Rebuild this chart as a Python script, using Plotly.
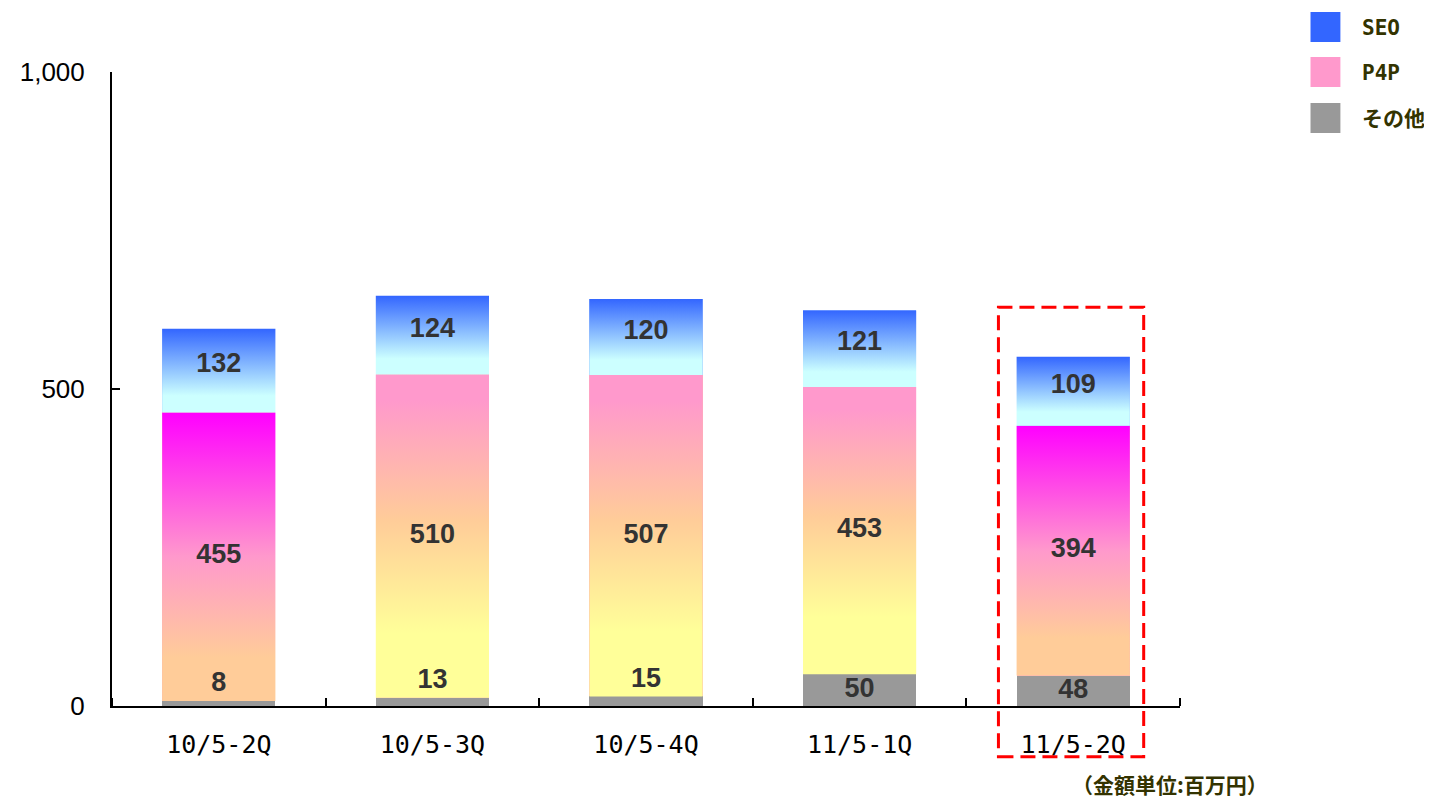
import plotly.graph_objects as go

# ---------------- data ----------------
categories = ["10/5-2Q", "10/5-3Q", "10/5-4Q", "11/5-1Q", "11/5-2Q"]
other_vals = [8, 13, 15, 50, 48]
p4p_vals = [455, 510, 507, 453, 394]
seo_vals = [132, 124, 120, 121, 109]
series_names = ["SEO", "P4P", "その他"]
y_tick_vals = [0, 500, 1000]
y_tick_text = ["0", "500", "1,000"]
highlight_index = 4
unit_note = "（金額単位:百万円）"

# ---------------- style ----------------
PAGE_OFF = 8                      # default body margin of the html page
W, H = 1432 - PAGE_OFF, 801 - PAGE_OFF
REF_L, REF_R, REF_T, REF_B = 108, 1180, 72, 706   # plot area in page pixels
M_L, M_T = REF_L - PAGE_OFF, REF_T - PAGE_OFF
PLOT_W = REF_R - REF_L
PLOT_H = REF_B - REF_T
M_R = W - M_L - PLOT_W
M_B = H - M_T - PLOT_H
Y_MAX = 1000
BAR_W = 0.53
n = len(categories)
xs = list(range(n))

col_seo = "#3366FF"
col_p4p = "#FF99CC"
col_other = "#999999"
legend_text_col = "#333300"

seo_scale = [[0, "#CCFFFF"], [0.2, "#CCFFFF"], [1, "#3366FF"]]
p4p_scale_a = [[0, "#FFCC99"], [0.15, "#FFCC99"], [0.5, "#FF99CC"], [1, "#FF00FF"]]
p4p_scale_b = [[0, "#FFFF99"], [0.2, "#FFFF99"], [0.55, "#FFCC99"], [0.92, "#FF99CC"], [1, "#FF99CC"]]
p4p_scale_per_bar = [p4p_scale_a, p4p_scale_b, p4p_scale_b, p4p_scale_b, p4p_scale_a]


def px(x):
    return (x - REF_L) / PLOT_W


def py(y):
    return (REF_B - y) / PLOT_H


fig = go.Figure()

# base bars (data layer)
fig.add_trace(go.Bar(x=xs, y=other_vals, name=series_names[2], marker_color=col_other,
                     width=BAR_W, marker_line_width=0, showlegend=False))
fig.add_trace(go.Bar(x=xs, y=p4p_vals, name=series_names[1], marker_color="#FFB0B8",
                     width=BAR_W, marker_line_width=0, showlegend=False))
fig.add_trace(go.Bar(x=xs, y=seo_vals, name=series_names[0], marker_color="#99BBFF",
                     width=BAR_W, marker_line_width=0, showlegend=False))

# gradient overlays computed from the same data
for i in range(n):
    base_p = other_vals[i]
    top_p = base_p + p4p_vals[i]
    top_s = top_p + seo_vals[i]
    for b, t, scale in [(base_p, top_p, p4p_scale_per_bar[i]), (top_p, top_s, seo_scale)]:
        x0, x1 = xs[i] - BAR_W / 2, xs[i] + BAR_W / 2
        fig.add_trace(go.Scatter(
            x=[x0, x1, x1, x0, x0], y=[b, b, t, t, b],
            mode="lines", line=dict(width=0), fill="toself",
            fillgradient=dict(type="vertical", colorscale=scale),
            hoverinfo="skip", showlegend=False))

# value labels
lab_x, lab_y, lab_t = [], [], []
for i in range(n):
    o, p, s = other_vals[i], p4p_vals[i], seo_vals[i]
    lab_x += [xs[i]] * 3
    lab_y += [o / 2 if o >= 30 else o + 26, o + p / 2, o + p + s / 2 + 8]
    lab_t += [str(o), str(p), str(s)]
fig.add_trace(go.Scatter(
    x=lab_x, y=lab_y, text=lab_t, mode="text",
    textfont=dict(family="Liberation Sans, Arial", size=27, color="#333333", weight="bold"),
    hoverinfo="skip", showlegend=False))

shapes = []
annotations = []

# highlight box around the last quarter
shapes.append(dict(
    type="rect", xref="paper", yref="paper",
    x0=(highlight_index - 0.35 + 0.5) / n, x1=(highlight_index + 0.33 + 0.5) / n,
    y0=-80 / Y_MAX, y1=629 / Y_MAX,
    line=dict(color="#FF0000", width=3, dash="15px,7px"), fillcolor="rgba(0,0,0,0)"))

# manual legend
leg_colors = [col_seo, col_p4p, col_other]
leg_tops = [12, 57, 103]
for name, c, t in zip(series_names, leg_colors, leg_tops):
    shapes.append(dict(type="rect", xref="paper", yref="paper",
                       x0=px(1311), x1=px(1341), y0=py(t + 30), y1=py(t),
                       fillcolor=c, line=dict(width=0)))
    annotations.append(dict(xref="paper", yref="paper", x=px(1361), y=py(t + 16),
                            xanchor="left", yanchor="middle", showarrow=False, text=name,
                            font=dict(family="DejaVu Sans Mono, Noto Sans CJK JP", size=21,
                                      color=legend_text_col, weight="bold")))

annotations.append(dict(xref="paper", yref="paper", x=px(1170), y=py(784),
                        xanchor="center", yanchor="middle", showarrow=False, text=unit_note,
                        font=dict(family="Noto Sans CJK JP", size=21, color=legend_text_col,
                                  weight="bold")))

fig.update_layout(
    width=W, height=H,
    margin=dict(l=M_L, r=M_R, t=M_T, b=M_B),
    barmode="stack", bargap=0,
    plot_bgcolor="white", paper_bgcolor="white",
    showlegend=False,
    shapes=shapes, annotations=annotations,
    xaxis=dict(range=[-0.5, n - 0.5], tickmode="array", tickvals=xs, ticktext=categories,
               ticks="", showgrid=False, zeroline=False,
               showline=True, linecolor="black", linewidth=2,
               tickfont=dict(family="DejaVu Sans Mono", size=25, color="black"),
               ticklabelstandoff=15,
               minor=dict(tickmode="array", tickvals=[i - 0.5 for i in range(n + 1)],
                          ticks="inside", ticklen=8, tickwidth=1.5, tickcolor="black",
                          showgrid=False)),
    yaxis=dict(range=[0, Y_MAX], tickmode="array", tickvals=y_tick_vals, ticktext=y_tick_text,
               ticks="inside", ticklen=8, tickwidth=1.5, tickcolor="black",
               showgrid=False, zeroline=False,
               showline=True, linecolor="black", linewidth=2,
               tickfont=dict(family="Liberation Sans, Arial", size=26, color="black"),
               ticklabelstandoff=20),
)

fig.write_html("out.html")
